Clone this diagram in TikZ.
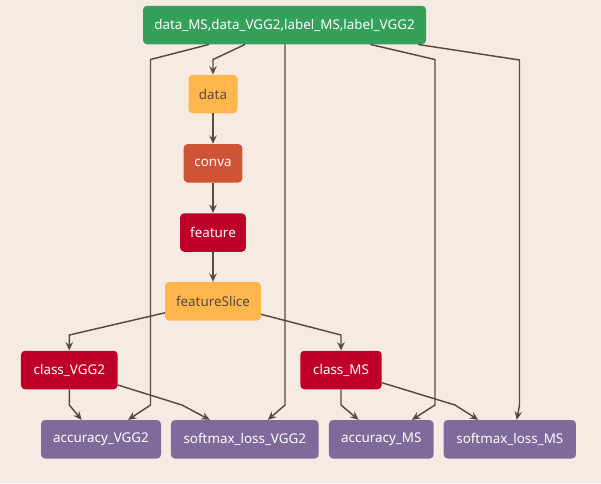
\documentclass[tikz,border=0pt]{standalone}
\usepackage{fontspec}
\setmainfont{Noto Sans}
\usetikzlibrary{arrows.meta,calc}
\definecolor{bg}{RGB}{246,235,226}
\definecolor{cgreen}{RGB}{53,160,90}
\definecolor{corange}{RGB}{255,183,77}
\definecolor{cdeep}{RGB}{207,83,54}
\definecolor{cred}{RGB}{190,0,40}
\definecolor{cpurple}{RGB}{128,106,155}
\definecolor{cline}{RGB}{90,72,62}
\tikzset{
  box/.style={rounded corners=4pt, inner sep=0pt, font=\fontsize{13.4}{15}\selectfont, minimum height=38.5pt},
  lightbox/.style={box, fill=corange, text=cline},
  darkbox/.style={box, text=white},
  arr/.style={draw=cline, line width=1.45pt, -{Stealth[length=8.5pt,width=7.5pt,inset=3pt]}},
  ln/.style={draw=cline, line width=1.45pt}
}
\begin{document}
\begin{tikzpicture}[x=1pt,y=-1pt]
\fill[bg] (0,0) rectangle (601,483);
\useasboundingbox (0,0) rectangle (601,483);
\node[darkbox, fill=cgreen, minimum width=283pt] (top) at (284.5,25) {data\_MS,data\_VGG2,label\_MS,label\_VGG2};
\node[lightbox, minimum width=49pt] (data) at (213,94) {data};
\node[darkbox, fill=cdeep, minimum width=58.6pt] (conva) at (213,163.3) {conva};
\node[darkbox, fill=cred, minimum width=65.7pt] (feature) at (213,232.5) {feature};
\node[lightbox, minimum width=95.7pt] (fs) at (213,301.3) {featureSlice};
\node[darkbox, fill=cred, minimum width=96.7pt] (cV) at (69.3,370) {class\_VGG2};
\node[darkbox, fill=cred, minimum width=81.4pt] (cM) at (341,370) {class\_MS};
\node[darkbox, fill=cpurple, minimum width=120pt] (aV) at (101,439.3) {accuracy\_VGG2};
\node[darkbox, fill=cpurple, minimum width=147.7pt] (sV) at (244.8,439.3) {softmax\_loss\_VGG2};
\node[darkbox, fill=cpurple, minimum width=104.7pt] (aM) at (381.3,439.3) {accuracy\_MS};
\node[darkbox, fill=cpurple, minimum width=132.3pt] (sM) at (509.8,439.3) {softmax\_loss\_MS};
% top edges
\draw[arr] ([xshift=-39.5pt]top.south) -- (213,59.5) -- (data.north);
\draw[arr] ([xshift=-75.5pt]top.south) -- (150.5,59.5) -- (150.5,405) -- ([xshift=27pt]aV.north);
\draw[arr] ([xshift=0.5pt]top.south) -- (285,405) -- ([xshift=23pt]sV.north);
\draw[arr] ([xshift=86pt]top.south) -- (435,59.5) -- (435,405) -- ([xshift=30.5pt]aM.north);
\draw[arr] ([xshift=133.5pt]top.south) -- (519.5,60) -- (519.5,405) -- ([xshift=7pt]sM.north);
% chain
\draw[arr] (data) -- (conva);
\draw[arr] (conva) -- (feature);
\draw[arr] (feature) -- (fs);
\draw[arr] ([yshift=-11.5pt]fs.west) -- (69.3,335) -- (cV.north);
\draw[arr] ([yshift=-13pt]fs.east) -- (341,335) -- (cM.north);
\draw[arr] (cV.south) -- (69.3,405) -- ([xshift=-19.3pt]aV.north);
\draw[arr] ([yshift=-15pt]cV.east) -- (182,405) -- ([xshift=-35pt]sV.north);
\draw[arr] (cM.south) -- (341,405) -- ([xshift=-22.7pt]aM.north);
\draw[arr] ([yshift=-12.7pt]cM.east) -- (455,405) -- ([xshift=-31.5pt]sM.north);
\end{tikzpicture}
\end{document}
